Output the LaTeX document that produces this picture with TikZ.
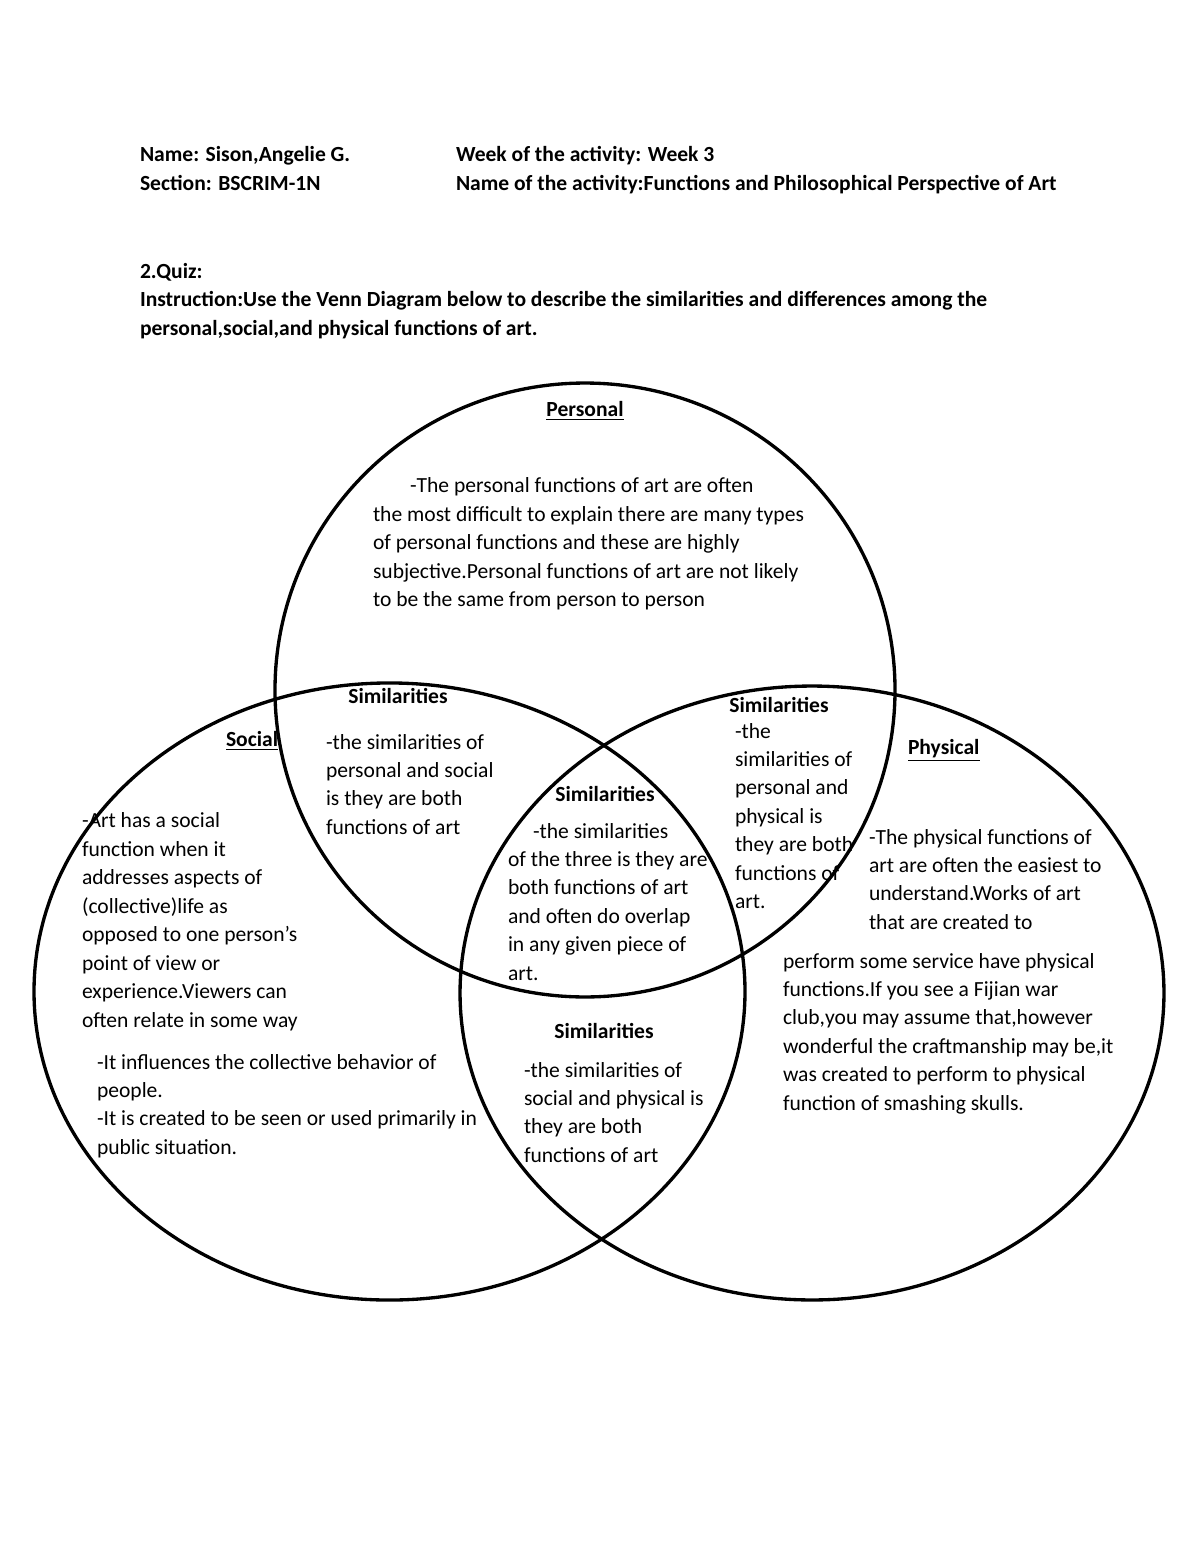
\documentclass[tikz,border=0pt]{standalone}
\usepackage{fontspec}
\setmainfont{Carlito}
\usetikzlibrary{shapes.geometric}
\newcommand{\bodyfont}{\fontsize{11pt}{14.5pt}\selectfont}
\begin{document}
% multi-line nodes are placed by the baseline of their LAST line
\begin{tikzpicture}[x=0.51pt,y=-0.51pt,
  txt/.style={inner sep=0pt,outer sep=0pt,anchor=base west,align=left,font=\bodyfont},
  hdr/.style={txt,font=\bodyfont\bfseries},
  lbl/.style={inner sep=0pt,outer sep=0pt,anchor=base,font=\bodyfont\bfseries},
  venn/.style={draw,ellipse,line width=1.7pt,inner sep=0pt,outer sep=0pt}]
\fill[white] (0,0) rectangle (1200,1553);
\useasboundingbox (0,0) rectangle (1200,1553);

% header
\node[hdr] (name) at (140,162) {Name: Sison,Angelie G.};
\node[hdr] (week) at (456,162) {Week of the activity: Week 3};
\node[hdr] (section) at (140,191) {Section: BSCRIM-1N};
\node[hdr] (actname) at (456,191) {Name of the activity:Functions and Philosophical Perspective of Art};
\node[hdr] (quiz) at (140,278) {2.Quiz:};
\node[hdr] (instr) at (140,335.4) {Instruction:Use the Venn Diagram below to describe the similarities and differences among the\\personal,social,and physical functions of art.};

% circles
\node[venn,minimum width=316.2pt,minimum height=313.1pt] (personal) at (585,690) {};
\node[venn,minimum width=362.6pt,minimum height=314.7pt] (social) at (389.5,991.5) {};
\node[venn,minimum width=359.0pt,minimum height=313.1pt] (physical) at (812,993) {};

% Personal
\node[lbl] (perslbl) at (585,416) {\underline{Personal}};
\node[txt] (perstxt) at (373,606.7) {\hspace*{18.9pt}-The personal functions of art are often\\the most difficult to explain there are many types\\of personal functions and these are highly\\subjective.Personal functions of art are not likely\\to be the same from person to person};

% Social
\node[hdr] (soclbl) at (226,746) {\underline{Social}};
\node[txt] (soctxt) at (82,1027) {-Art has a social\\function when it\\addresses aspects of\\(collective)life as\\opposed to one person’s\\point of view or\\experience.Viewers can\\often relate in some way};
\node[txt] (soctxtb) at (97,1154.3) {-It influences the collective behavior of\\people.\\-It is created to be seen or used primarily in\\public situation.};

% Physical
\node[hdr] (physlbl) at (908,754) {\underline{Physical}};
\node[txt] (phystxt) at (869,929.3) {-The physical functions of\\art are often the easiest to\\understand.Works of art\\that are created to};
\node[txt] (phystxtb) at (783,1110.2) {perform some service have physical\\functions.If you see a Fijian war\\club,you may assume that,however\\wonderful the craftmanship may be,it\\was created to perform to physical\\function of smashing skulls.};

% Similarities personal/social
\node[lbl] (simps) at (398,703) {Similarities};
\node[txt] (simpstxt) at (326,834.3) {-the similarities of\\personal and social\\is they are both\\functions of art};

% Similarities center
\node[lbl] (simall) at (605,801) {Similarities};
\node[txt] (simalltxt) at (508,980.2) {\hspace*{12.75pt}-the similarities\\of the three is they are\\both functions of art\\and often do overlap\\in any given piece of\\art.};

% Similarities personal/physical
\node[lbl] (simpp) at (779,712) {Similarities};
\node[txt] (simpptxt) at (735,908.6) {-the\\similarities of\\personal and\\physical is\\they are both\\functions of\\art.};

% Similarities social/physical
\node[lbl] (simsp) at (604,1038) {Similarities};
\node[txt] (simsptxt) at (524,1162.3) {-the similarities of\\social and physical is\\they are both\\functions of art};
\end{tikzpicture}
\end{document}
